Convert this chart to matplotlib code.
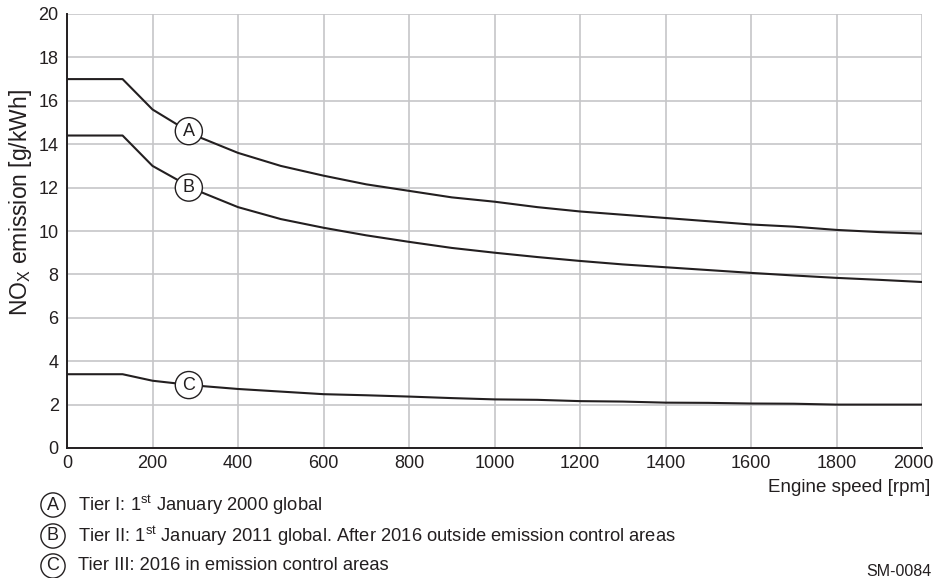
import matplotlib
matplotlib.use("Agg")
import matplotlib.pyplot as plt
import matplotlib.transforms as mtransforms

plt.rcParams['font.family'] = ['Liberation Sans', 'DejaVu Sans']
plt.rcParams['mathtext.fontset'] = 'custom'
plt.rcParams['mathtext.rm'] = 'Liberation Sans'
plt.rcParams['mathtext.it'] = 'Liberation Sans'

rpm = [0, 130, 200, 300, 400, 500, 600, 700, 800, 900, 1000, 1100, 1200,
       1300, 1400, 1500, 1600, 1700, 1800, 1900, 2000]
tier1 = [17.0, 17.0, 15.6, 14.4, 13.6, 13.0, 12.55, 12.15, 11.85, 11.55, 11.35,
         11.1, 10.9, 10.75, 10.6, 10.45, 10.3, 10.2, 10.05, 9.95, 9.88]
tier2 = [14.4, 14.4, 13.0, 11.9, 11.1, 10.55, 10.15, 9.8, 9.5, 9.22, 9.0,
         8.8, 8.62, 8.46, 8.33, 8.2, 8.07, 7.95, 7.84, 7.75, 7.65]
tier3 = [3.4, 3.4, 3.1, 2.88, 2.72, 2.6, 2.48, 2.43, 2.37, 2.3, 2.24,
         2.22, 2.16, 2.14, 2.09, 2.08, 2.05, 2.04, 2.0, 2.0, 2.0]

xticks = list(range(0, 2001, 200))
yticks = list(range(0, 21, 2))

labels = ['A', 'B', 'C']
label_x = 285
label_y = [14.6, 12.0, 2.9]
legend_texts = [r'Tier I: 1$^{\mathrm{st}}$ January 2000 global',
                r'Tier II: 1$^{\mathrm{st}}$ January 2011 global. After 2016 outside emission control areas',
                'Tier III: 2016 in emission control areas']

W, H = 948, 578
ink = '#231f20'
fig = plt.figure(figsize=(W / 100, H / 100), dpi=100)
ax = fig.add_axes([67 / W, 1 - 448 / H, (922 - 67) / W, (448 - 14) / H])

for s in [tier1, tier2, tier3]:
    ax.plot(rpm, s, color=ink, lw=1.5, zorder=3, solid_joinstyle='round')

ax.set_xlim(0, 2000)
ax.set_ylim(0, 20)
ax.set_xticks(xticks)
ax.set_yticks(yticks)
ax.grid(True, color='#c6c6c8', lw=1.2, zorder=0)
ax.tick_params(length=0, labelsize=13, colors=ink)
ax.tick_params(axis='y', pad=6)
ax.tick_params(axis='x', pad=5)
for side in ['top', 'right']:
    ax.spines[side].set_visible(False)
for side in ['left', 'bottom']:
    ax.spines[side].set_color(ink)
    ax.spines[side].set_linewidth(1.4)
    ax.spines[side].set_zorder(4)
# last x tick label pulled slightly left, as in the reference
last = ax.get_xticklabels()[-1]
last.set_transform(last.get_transform() +
                   mtransforms.ScaledTranslation(-9 / 100, 0, fig.dpi_scale_trans))

fig.text(21 / W, 1 - 203 / H, r'NO$_\mathrm{X}$ emission [g/kWh]', rotation=90,
         ha='center', va='center', fontsize=16.5, color=ink)

circ = dict(boxstyle='circle,pad=0.28', fc='white', ec=ink, lw=1.0)
for lab, y in zip(labels, label_y):
    ax.text(label_x, y, lab, ha='center', va='center', fontsize=13,
            color=ink, bbox=circ, zorder=5)

fig.text(930 / W, 1 - 487 / H, 'Engine speed [rpm]', ha='right', va='center',
         fontsize=13.5, color=ink)

circ2 = dict(boxstyle='circle,pad=0.2', fc='white', ec=ink, lw=1.0)
leg_y = [505, 536, 566]
for lab, txt, y in zip(labels, legend_texts, leg_y):
    fig.text(53 / W, 1 - y / H, lab, ha='center', va='center', fontsize=13,
             color=ink, bbox=circ2)
    fig.text(78 / W, 1 - y / H, txt, ha='left', va='center', fontsize=13.2,
             color=ink)

fig.text(932 / W, 1 - 572 / H, 'SM-0084', ha='right', va='center',
         fontsize=11.5, color=ink)

fig.savefig('out.png', dpi=100)
